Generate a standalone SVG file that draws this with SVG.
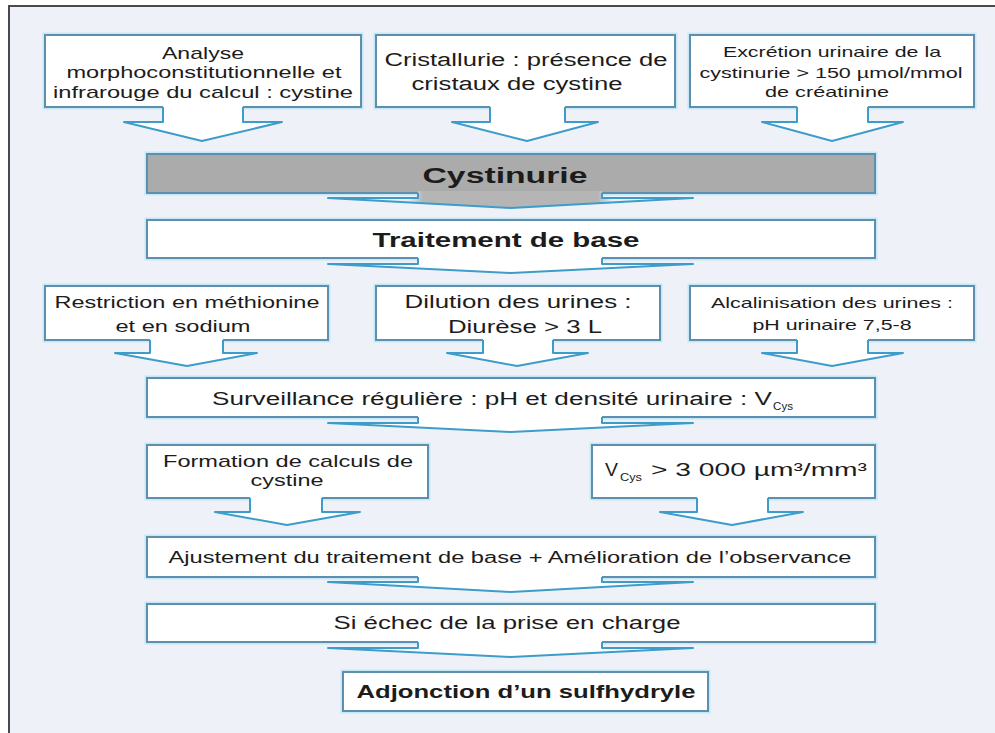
<svg xmlns="http://www.w3.org/2000/svg" width="995" height="733" viewBox="0 0 995 733">
<defs>
<style>
.bg{fill:#eef2f8}
.glow{fill:none;stroke:#c4e8f6;stroke-width:5}
.box{fill:#ffffff;stroke:#5f8fae;stroke-width:2}
.gray{fill:#ababab;stroke:#5f8fae;stroke-width:2}
.af{fill:#ffffff;stroke:none}
.as{fill:none;stroke:#3d9cc9;stroke-width:2;stroke-linejoin:round}
text{font-family:"Liberation Sans",Arial,sans-serif;fill:#1c1c1c}
.b{font-weight:bold}
</style>
<linearGradient id="gcys" gradientUnits="userSpaceOnUse" x1="328" y1="0" x2="693" y2="0">
<stop offset="0" stop-color="#eef4f8"/>
<stop offset="0.22" stop-color="#e8eef2"/>
<stop offset="0.26" stop-color="#b5b5b5"/>
<stop offset="0.74" stop-color="#b5b5b5"/>
<stop offset="0.78" stop-color="#e8eef2"/>
<stop offset="1" stop-color="#eef4f8"/>
</linearGradient>
</defs>
<rect x="0" y="0" width="995" height="733" fill="#ffffff"/>
<rect class="bg" x="9" y="6" width="986" height="727"/>
<path d="M9,733 V6 H995" fill="none" stroke="#4a4a4a" stroke-width="2"/>

<g id="nodes">
<g id="n-analyse">
<rect class="glow" x="45" y="35" width="316" height="72"/>
<rect class="box" x="45" y="35" width="316" height="72"/>
<text x="203" y="59" font-size="17" text-anchor="middle" textLength="82" lengthAdjust="spacingAndGlyphs">Analyse</text>
<text x="204" y="78" font-size="17" text-anchor="middle" textLength="275" lengthAdjust="spacingAndGlyphs">morphoconstitutionnelle et</text>
<text x="203" y="98" font-size="17" text-anchor="middle" textLength="300" lengthAdjust="spacingAndGlyphs">infrarouge du calcul : cystine</text>
</g>
<g id="n-cristallurie">
<rect class="glow" x="376" y="35" width="299" height="72"/>
<rect class="box" x="376" y="35" width="299" height="72"/>
<text x="526" y="66" font-size="18" text-anchor="middle" textLength="283" lengthAdjust="spacingAndGlyphs">Cristallurie : présence de</text>
<text x="517" y="90" font-size="18" text-anchor="middle" textLength="211" lengthAdjust="spacingAndGlyphs">cristaux de cystine</text>
</g>
<g id="n-excretion">
<rect class="glow" x="690" y="35" width="284" height="72"/>
<rect class="box" x="690" y="35" width="284" height="72"/>
<text x="832" y="57" font-size="15" text-anchor="middle" textLength="218" lengthAdjust="spacingAndGlyphs">Excrétion urinaire de la</text>
<text x="831" y="78" font-size="15" text-anchor="middle" textLength="263" lengthAdjust="spacingAndGlyphs">cystinurie &gt; 150 µmol/mmol</text>
<text x="827" y="97" font-size="15" text-anchor="middle" textLength="124" lengthAdjust="spacingAndGlyphs">de créatinine</text>
</g>
<g id="n-cystinurie">
<rect class="glow" x="147" y="154" width="728" height="39"/>
<rect class="gray" x="147" y="154" width="728" height="39"/>
<text class="b" x="505" y="183" font-size="22" text-anchor="middle" textLength="165" lengthAdjust="spacingAndGlyphs">Cystinurie</text>
</g>
<g id="n-traitement">
<rect class="glow" x="147" y="220" width="728" height="38"/>
<rect class="box" x="147" y="220" width="728" height="38"/>
<text class="b" x="506" y="247" font-size="20" text-anchor="middle" textLength="267" lengthAdjust="spacingAndGlyphs">Traitement de base</text>
</g>
<g id="n-restriction">
<rect class="glow" x="45" y="286" width="283" height="54"/>
<rect class="box" x="45" y="286" width="283" height="54"/>
<text x="187" y="308" font-size="16" text-anchor="middle" textLength="265" lengthAdjust="spacingAndGlyphs">Restriction en méthionine</text>
<text x="183" y="332" font-size="16" text-anchor="middle" textLength="135" lengthAdjust="spacingAndGlyphs">et en sodium</text>
</g>
<g id="n-dilution">
<rect class="glow" x="376" y="286" width="284" height="54"/>
<rect class="box" x="376" y="286" width="284" height="54"/>
<text x="518" y="308" font-size="18" text-anchor="middle" textLength="227" lengthAdjust="spacingAndGlyphs">Dilution des urines :</text>
<text x="525" y="333" font-size="18" text-anchor="middle" textLength="154" lengthAdjust="spacingAndGlyphs">Diurèse &gt; 3 L</text>
</g>
<g id="n-alcalinisation">
<rect class="glow" x="690" y="286" width="284" height="54"/>
<rect class="box" x="690" y="286" width="284" height="54"/>
<text x="832" y="308" font-size="14.5" text-anchor="middle" textLength="242" lengthAdjust="spacingAndGlyphs">Alcalinisation des urines :</text>
<text x="832" y="330" font-size="14.5" text-anchor="middle" textLength="159" lengthAdjust="spacingAndGlyphs">pH urinaire 7,5-8</text>
</g>
<g id="n-surveillance">
<rect class="glow" x="147" y="378" width="728" height="39"/>
<rect class="box" x="147" y="378" width="728" height="39"/>
<text x="212" y="405" font-size="18" textLength="560" lengthAdjust="spacingAndGlyphs">Surveillance régulière : pH et densité urinaire : V</text>
<text x="773" y="410" font-size="10.5" textLength="20" lengthAdjust="spacingAndGlyphs">Cys</text>
</g>
<g id="n-formation">
<rect class="glow" x="147" y="445" width="281" height="53"/>
<rect class="box" x="147" y="445" width="281" height="53"/>
<text x="288" y="467" font-size="17" text-anchor="middle" textLength="250" lengthAdjust="spacingAndGlyphs">Formation de calculs de</text>
<text x="287" y="486" font-size="17" text-anchor="middle" textLength="73" lengthAdjust="spacingAndGlyphs">cystine</text>
</g>
<g id="n-vcys">
<rect class="glow" x="592" y="445" width="283" height="53"/>
<rect class="box" x="592" y="445" width="283" height="53"/>
<text x="605" y="476" font-size="18" textLength="13" lengthAdjust="spacingAndGlyphs">V</text>
<text x="620" y="481" font-size="10.5" textLength="22" lengthAdjust="spacingAndGlyphs">Cys</text>
<text x="651" y="476" font-size="18" textLength="216" lengthAdjust="spacingAndGlyphs">&gt; 3 000 µm³/mm³</text>
</g>
<g id="n-ajustement">
<rect class="glow" x="147" y="537" width="728" height="40"/>
<rect class="box" x="147" y="537" width="728" height="40"/>
<text x="510" y="563" font-size="16" text-anchor="middle" textLength="683" lengthAdjust="spacingAndGlyphs">Ajustement du traitement de base + Amélioration de l’observance</text>
</g>
<g id="n-echec">
<rect class="glow" x="147" y="604" width="728" height="38"/>
<rect class="box" x="147" y="604" width="728" height="38"/>
<text x="507" y="629" font-size="17.5" text-anchor="middle" textLength="347" lengthAdjust="spacingAndGlyphs">Si échec de la prise en charge</text>
</g>
<g id="n-adjonction">
<rect class="glow" x="343" y="672" width="365" height="39"/>
<rect class="box" x="343" y="672" width="365" height="39"/>
<text class="b" x="526" y="698" font-size="18" text-anchor="middle" textLength="339" lengthAdjust="spacingAndGlyphs">Adjonction d’un sulfhydryle</text>
</g>
</g>

<g id="connectors">
<!-- top row arrows -->
<path class="af" d="M163,104 V122 H124 L202,141 L282,122 H243 V104 Z"/>
<path class="as" d="M163,107 V122 H124 L202,141 L282,122 H243 V107"/>
<path class="af" d="M490,104 V122 H452 L527,141 L598,122 H565 V104 Z"/>
<path class="as" d="M490,107 V122 H452 L527,141 L598,122 H565 V107"/>
<path class="af" d="M797,104 V122 H762 L832,141 L903,122 H868 V104 Z"/>
<path class="as" d="M797,107 V122 H762 L832,141 L903,122 H868 V107"/>
<!-- cystinurie -> traitement -->
<path d="M418,191 V198 H328 L511,208 L693,198 H602 V191 Z" fill="url(#gcys)"/>
<path class="as" d="M418,193 V198 H328 L511,208 L693,198 H602 V193"/>
<!-- traitement -> row 3 -->
<path class="af" d="M418,256 V264 H328 L511,273 L693,264 H602 V256 Z"/>
<path class="as" d="M418,258 V264 H328 L511,273 L693,264 H602 V258"/>
<!-- row 3 arrows -->
<path class="af" d="M150,337 V353 H115 L187,366 L257,353 H223 V337 Z"/>
<path class="as" d="M150,340 V353 H115 L187,366 L257,353 H223 V340"/>
<path class="af" d="M483,337 V353 H447 L517,366 L588,353 H553 V337 Z"/>
<path class="as" d="M483,340 V353 H447 L517,366 L588,353 H553 V340"/>
<path class="af" d="M797,337 V353 H762 L832,366 L903,353 H868 V337 Z"/>
<path class="as" d="M797,340 V353 H762 L832,366 L903,353 H868 V340"/>
<!-- surveillance -> row 5 -->
<path class="af" d="M418,415 V423 H328 L511,432 L693,423 H602 V415 Z"/>
<path class="as" d="M418,417 V423 H328 L511,432 L693,423 H602 V417"/>
<!-- row 5 arrows -->
<path class="af" d="M250,495 V512 H215 L287,525 L360,512 H322 V495 Z"/>
<path class="as" d="M250,498 V512 H215 L287,525 L360,512 H322 V498"/>
<path class="af" d="M697,495 V512 H660 L732,525 L803,512 H768 V495 Z"/>
<path class="as" d="M697,498 V512 H660 L732,525 L803,512 H768 V498"/>
<!-- ajustement -> echec -->
<path class="af" d="M418,575 V582 H328 L511,592 L693,582 H602 V575 Z"/>
<path class="as" d="M418,577 V582 H328 L511,592 L693,582 H602 V577"/>
<!-- echec -> adjonction -->
<path class="af" d="M418,640 V648 H328 L511,657 L693,648 H602 V640 Z"/>
<path class="as" d="M418,642 V648 H328 L511,657 L693,648 H602 V642"/>
</g>
</svg>
